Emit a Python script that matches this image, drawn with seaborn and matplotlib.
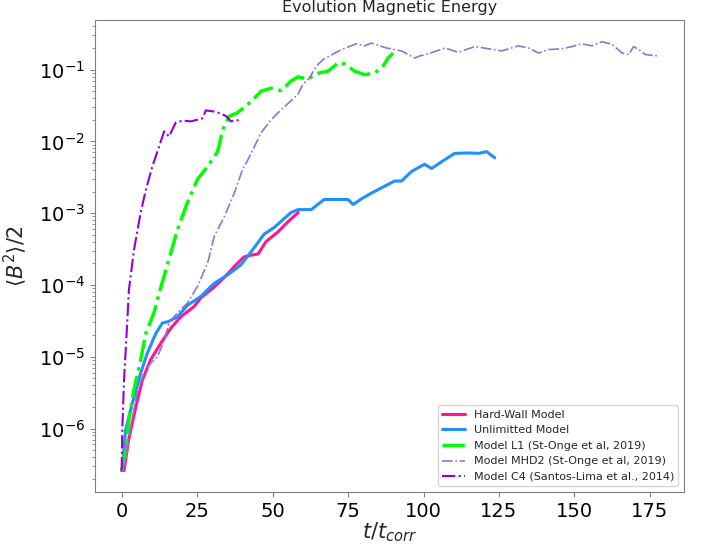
import numpy as np
import pandas as pd
import seaborn as sns
import matplotlib
matplotlib.use("Agg")
import matplotlib.pyplot as plt

# Hard-Wall Model
t_hard = [0, 0.8, 2.3, 4.7, 6.9, 9.6, 13.0, 16.3, 19.6, 24.0, 26.2, 30.6, 33.9,
          37.2, 40.5, 42.9, 45.2, 47.8, 51.8, 55.1, 58.5]
b_hard = [2.6e-7, 2.6e-7, 6.9e-7, 2.0e-6, 4.8e-6, 9.1e-6, 1.55e-5, 2.5e-5, 3.6e-5,
          5.0e-5, 6.6e-5, 9.3e-5, 1.26e-4, 1.78e-4, 2.45e-4, 2.6e-4, 2.7e-4, 4.0e-4,
          5.5e-4, 7.6e-4, 1.02e-3]

# Unlimitted Model
t_unlim = [0, 0.2, 1.3, 3.6, 6.3, 8.5, 11.3, 13.5, 15.6, 18.5, 21.8, 26.2, 30.6,
           35.1, 39.5, 43.9, 47.2, 50.5, 56.1, 58.4, 62.8, 67.1, 72.8, 75.0, 76.7,
           79.4, 82.7, 86.0, 90.4, 92.7, 96.0, 100.3, 102.7, 106.0, 110.3, 115.0,
           118.3, 120.9, 123.6]
b_unlim = [2.6e-7, 2.6e-7, 9.5e-7, 2.3e-6, 5.9e-6, 1.12e-5, 2.1e-5, 2.95e-5, 3.1e-5,
           3.6e-5, 5.2e-5, 6.9e-5, 1.05e-4, 1.38e-4, 1.9e-4, 3.3e-4, 5.1e-4, 6.3e-4,
           1.02e-3, 1.12e-3, 1.12e-3, 1.55e-3, 1.55e-3, 1.55e-3, 1.32e-3, 1.58e-3,
           1.9e-3, 2.24e-3, 2.8e-3, 2.8e-3, 3.8e-3, 4.8e-3, 4.2e-3, 5.2e-3, 6.8e-3,
           6.9e-3, 6.8e-3, 7.2e-3, 5.9e-3]

# Model L1 (St-Onge et al, 2019)
t_l1 = [0, 1.3, 2.4, 4.1, 6.3, 8.0, 10.7, 13.0, 16.3, 18.5, 21.8, 25.1, 28.5, 31.8,
        33.5, 35.6, 38.4, 42.9, 46.2, 49.5, 52.8, 56.1, 58.4, 61.7, 65.0, 68.3,
        71.7, 73.9, 77.2, 80.5, 83.8, 86.6, 88.3, 89.9]
b_l1 = [2.6e-7, 4.6e-7, 1.32e-6, 3.5e-6, 9.1e-6, 2.1e-5, 4.1e-5, 9.3e-5, 2.8e-4,
        5.9e-4, 1.41e-3, 2.95e-3, 4.5e-3, 7.2e-3, 1.45e-2, 2.24e-2, 2.5e-2, 3.6e-2,
        5.0e-2, 5.5e-2, 5.1e-2, 6.9e-2, 7.9e-2, 7.4e-2, 8.9e-2, 9.5e-2, 0.123,
        0.120, 9.5e-2, 8.5e-2, 8.9e-2, 0.112, 0.145, 0.17]

# Model MHD2 (St-Onge et al, 2019)
t_mhd2 = [0, 1.3, 3.0, 5.2, 7.4, 9.6, 11.9, 14.1, 15.7, 18.5, 21.8, 25.1, 28.5,
          30.7, 34.0, 37.3, 40.1, 41.8, 44.0, 46.2, 49.5, 52.8, 58.4, 60.0, 62.2,
          64.5, 66.7, 68.9, 72.8, 77.7, 80.5, 82.7, 87.7, 92.7, 97.1, 98.8, 101.6,
          107.1, 111.5, 117.0, 121.5, 125.9, 131.4, 134.8, 138.1, 141.4, 145.8,
          149.2, 152.5, 155.8, 159.1, 162.5, 165.8, 168.0, 169.6, 171.3, 173.5, 177.4]
b_mhd2 = [2.6e-7, 3.6e-7, 1.07e-6, 3.2e-6, 5.9e-6, 8.1e-6, 1.0e-5, 1.7e-5, 2.95e-5,
          4.1e-5, 5.6e-5, 9.5e-5, 2.04e-4, 4.8e-4, 8.9e-4, 1.9e-3, 4.1e-3, 5.5e-3,
          8.5e-3, 1.32e-2, 2.0e-2, 2.75e-2, 4.5e-2, 6.2e-2, 7.6e-2, 0.112, 0.138,
          0.155, 0.19, 0.229, 0.214, 0.234, 0.20, 0.182, 0.145, 0.155, 0.166, 0.20,
          0.174, 0.209, 0.195, 0.182, 0.214, 0.20, 0.17, 0.19, 0.195, 0.209, 0.229,
          0.214, 0.245, 0.224, 0.17, 0.162, 0.209, 0.19, 0.162, 0.155]

# Model C4 (Santos-Lima et al., 2014)
t_c4 = [0, 0.2, 0.8, 1.7, 2.4, 4.1, 6.3, 8.0, 10.2, 12.4, 14.1, 15.7, 17.9, 20.2,
        22.9, 25.1, 26.8, 27.9, 30.7, 32.9, 34.6, 36.2, 39.5]
b_c4 = [2.6e-7, 9.5e-7, 4.8e-6, 2.3e-5, 8.5e-5, 3.1e-4, 1.02e-3, 2.1e-3, 4.5e-3,
        8.5e-3, 1.38e-2, 1.17e-2, 1.82e-2, 1.95e-2, 1.9e-2, 2.0e-2, 2.1e-2, 2.7e-2,
        2.6e-2, 2.45e-2, 2.24e-2, 1.9e-2, 2.0e-2]

x_ticks = [0, 25, 50, 75, 100, 125, 150, 175]
y_ticks = [1e-6, 1e-5, 1e-4, 1e-3, 1e-2, 1e-1]

sns.set_style("ticks", {"axes.edgecolor": "0.5"})
plt.rcParams["font.family"] = ["DejaVu Sans"]

fig, ax = plt.subplots(figsize=(7.08, 5.46), dpi=100)
fig.subplots_adjust(left=0.134, right=0.966, bottom=0.099, top=0.963)

series = [
    ("Hard-Wall Model", t_hard, b_hard, "deeppink", "-", 2.2),
    ("Unlimitted Model", t_unlim, b_unlim, "dodgerblue", "-", 2.2),
    ("Model L1 (St-Onge et al, 2019)", t_l1, b_l1, "lime", "-.", 2.5),
    ("Model MHD2 (St-Onge et al, 2019)", t_mhd2, b_mhd2, "mediumpurple", "-.", 1.2),
    ("Model C4 (Santos-Lima et al., 2014)", t_c4, b_c4, "darkviolet", "-.", 1.5),
]
for label, t, b, color, ls, lw in series:
    sns.lineplot(x=t, y=b, ax=ax, color=color, linestyle=ls, linewidth=lw,
                 label=label, estimator=None, sort=False)

ax.set_yscale("log")
ax.set_xticks(x_ticks)
ax.set_yticks(y_ticks)
ax.yaxis.set_minor_formatter(matplotlib.ticker.NullFormatter())
ax.tick_params(axis="both", which="major", labelsize=14, color="0.5", labelcolor="black")
ax.tick_params(axis="both", which="minor", color="0.5")
ax.set_xlabel(r"$t/t_{corr}$", fontsize=15, labelpad=0)
ax.set_ylabel(r"$\langle B^2 \rangle/2$", fontsize=15, labelpad=7)
ax.set_title("Evolution Magnetic Energy", fontsize=11.5)
ax.legend(loc="lower right", fontsize=8)

fig.savefig("out.png", dpi=100)
